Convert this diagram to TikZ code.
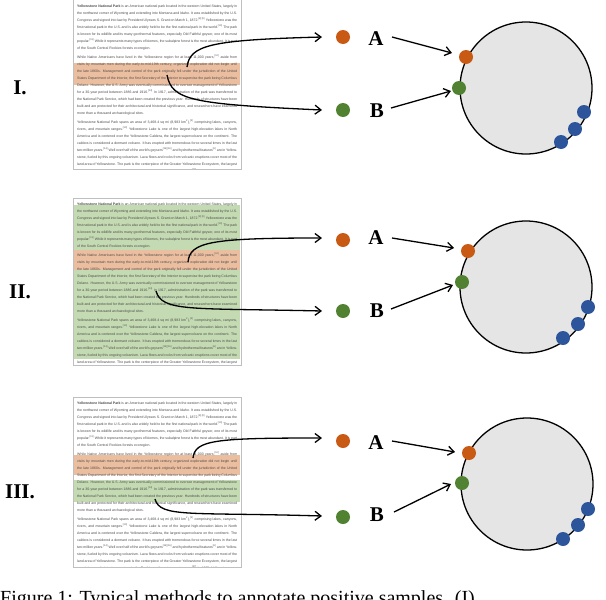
\documentclass[tikz,border=0pt]{standalone}
\usepackage{fontspec}
\setmainfont{Liberation Serif}
\newfontfamily\docfont{Liberation Sans}
\usetikzlibrary{arrows.meta}
\definecolor{hlor}{RGB}{236,190,160}
\definecolor{hlgr}{RGB}{196,218,178}
\definecolor{dotor}{RGB}{200,90,20}
\definecolor{dotgr}{RGB}{80,130,50}
\definecolor{dotbl}{RGB}{45,85,155}
\newcommand\rf[1]{\textsuperscript{[#1]}}
\newcommand\yellowtext{\textbf{Yellowstone National Park} is an American national park located in the western United States, largely in the northwest corner of Wyoming and extending into Montana and Idaho. It was established by the U.S. Congress and signed into law by President Ulysses S. Grant on March 1, 1872.\rf{8}\rf{9} Yellowstone was the first national park in the U.S. and is also widely held to be the first national park in the world.\rf{10} The park is known for its wildlife and its many geothermal features, especially Old Faithful geyser, one of its most popular.\rf{11} While it represents many types of biomes, the subalpine forest is the most abundant. It is part of the South Central Rockies forests ecoregion.\par\vspace{2pt}
While Native Americans have lived in the Yellowstone region for at least 11,000 years,\rf{12} aside from visits by mountain men during the early-to-mid-19th century, organized exploration did not begin until the late 1860s. Management and control of the park originally fell under the jurisdiction of the United States Department of the Interior, the first Secretary of the Interior to supervise the park being Columbus Delano. However, the U.S. Army was eventually commissioned to oversee management of Yellowstone for a 30-year period between 1886 and 1916.\rf{13} In 1917, administration of the park was transferred to the National Park Service, which had been created the previous year. Hundreds of structures have been built and are protected for their architectural and historical significance, and researchers have examined more than a thousand archaeological sites.\par\vspace{2pt}
Yellowstone National Park spans an area of 3,468.4 sq mi (8,983 km\textsuperscript{2}),\rf{3} comprising lakes, canyons, rivers, and mountain ranges.\rf{10} Yellowstone Lake is one of the largest high-elevation lakes in North America and is centered over the Yellowstone Caldera, the largest supervolcano on the continent. The caldera is considered a dormant volcano. It has erupted with tremendous force several times in the last two million years.\rf{14} Well over half of the world's geysers\rf{15}\rf{16} and hydrothermal features\rf{6} are in Yellowstone, fueled by this ongoing volcanism. Lava flows and rocks from volcanic eruptions cover most of the land area of Yellowstone. The park is the centerpiece of the Greater Yellowstone Ecosystem, the largest remaining nearly-intact ecosystem in the Earth's northern temperate zone.\rf{17} In 1978, Yellowstone was named a UNESCO World Heritage Site.}
\tikzset{
  page/.style={draw=black!25, fill=white, line width=0.8pt},
  doctext/.style={anchor=north west, inner sep=0pt, text width=160pt, align=justify, font=\docfont\fontsize{3.5}{7}\selectfont, text=black!70},
  dotA/.style={circle, fill=dotor, minimum size=14pt, inner sep=0pt},
  dotB/.style={circle, fill=dotgr, minimum size=14pt, inner sep=0pt},
  dotC/.style={circle, fill=dotbl, minimum size=14pt, inner sep=0pt},
  lab/.style={font=\bfseries\fontsize{21}{21}\selectfont, inner sep=0pt},
  arr/.style={-{Straight Barb[length=6pt,width=9pt]}, line width=1.3pt},
  ball/.style={circle, draw=black, line width=1.3pt, fill=black!10, minimum size=132pt, inner sep=0pt}
}
\begin{document}
\begin{tikzpicture}[x=1pt,y=-1pt]
\useasboundingbox (0,0) rectangle (606,600);
% row I
\begin{scope}
\draw[page] (73,-2) rectangle (241,169);
\fill[hlor] (74,63) rectangle (240,85);
\begin{scope}\clip (74,0) rectangle (240,168);
\node[doctext] (t1) at (77,5) {\yellowtext};\end{scope}
\node[lab] (r1) at (20,88) {I.};
\coordinate (s1a) at (187,67); \coordinate (s1b) at (167,75);
\node[dotA] (a1) at (343,37) {}; \node[dotB] (b1) at (343,110) {};
\node[lab] (la1) at (376,39) {A}; \node[lab] (lb1) at (377,111) {B};
\node[ball] (c1) at (526,88) {};
\node[dotA] (ca1) at (466,57) {}; \node[dotB] (cb1) at (459,88) {};
\node[dotC] at (584,112) {}; \node[dotC] at (575,129) {}; \node[dotC] at (561,142) {};
\draw[arr] (s1a) .. controls (190,45) and (210,40) .. (322,37);
\draw[arr] (s1b) .. controls (172,100) and (190,104) .. (322,110);
\draw[arr] (392,37) -- (452,53);
\draw[arr] (391,108) -- (451,91);
\end{scope}
% row II
\begin{scope}
\draw[page] (73,198) rectangle (241,365);
\fill[hlgr] (74,205) rectangle (240,359);
\fill[hlor] (74,250) rectangle (240,270);
\begin{scope}\clip (74,200) rectangle (240,364);
\node[doctext] (t2) at (77,203) {\yellowtext};\end{scope}
\node[lab] (r2) at (20,292) {II.};
\coordinate (s2a) at (188,262); \coordinate (s2b) at (156,291);
\node[dotA] (a2) at (343,240) {}; \node[dotB] (b2) at (343,311) {};
\node[lab] (la2) at (376,238) {A}; \node[lab] (lb2) at (377,311) {B};
\node[ball] (c2) at (526,287) {};
\node[dotA] (ca2) at (468,251) {}; \node[dotB] (cb2) at (462,282) {};
\node[dotC] at (588,307) {}; \node[dotC] at (578,324) {}; \node[dotC] at (563,338) {};
\draw[arr] (s2a) .. controls (190,242) and (210,238) .. (322,238);
\draw[arr] (s2b) .. controls (162,312) and (190,308) .. (322,311);
\draw[arr] (392,238) -- (454,248);
\draw[arr] (391,309) -- (453,285);
\end{scope}
% row III
\begin{scope}
\draw[page] (73,397) rectangle (241,567);
\fill[hlor] (74,455) rectangle (240,475);
\fill[hlgr] (74,480) rectangle (240,502);
\begin{scope}\clip (74,399) rectangle (240,566);
\node[doctext] (t3) at (77,402) {\yellowtext};\end{scope}
\node[lab] (r3) at (20,492) {III.};
\coordinate (s3a) at (193,458); \coordinate (s3b) at (155,499);
\node[dotA] (a3) at (343,441) {}; \node[dotB] (b3) at (343,517) {};
\node[lab] (la3) at (376,443) {A}; \node[lab] (lb3) at (377,515) {B};
\node[ball] (c3) at (527,484) {};
\node[dotA] (ca3) at (469,453) {}; \node[dotB] (cb3) at (462,483) {};
\node[dotC] at (588,509) {}; \node[dotC] at (578,525) {}; \node[dotC] at (563,539) {};
\draw[arr] (s3a) .. controls (195,440) and (215,438) .. (322,438);
\draw[arr] (s3b) .. controls (160,518) and (190,512) .. (322,516);
\draw[arr] (392,441) -- (455,452);
\draw[arr] (394,512) -- (451,484);
\end{scope}
\node[anchor=west, inner sep=0pt, font=\fontsize{20}{20}\selectfont] (cap) at (0,600) {Figure 1: Typical methods to annotate positive samples. (I)};
\end{tikzpicture}
\end{document}
